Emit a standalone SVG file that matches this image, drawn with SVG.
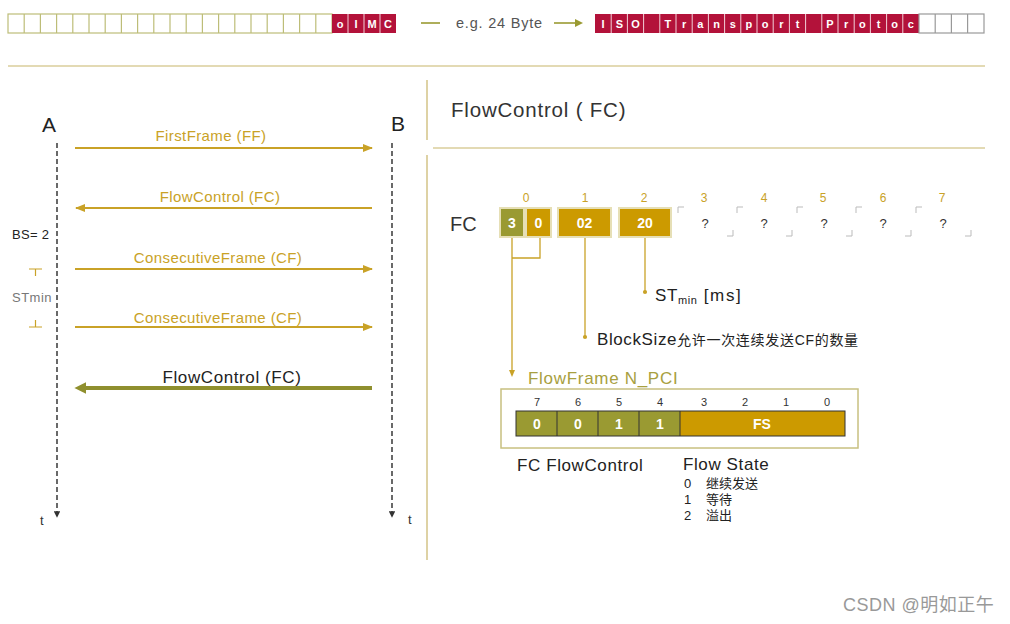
<svg xmlns="http://www.w3.org/2000/svg" width="1010" height="624" viewBox="0 0 1010 624">
<style>
.sans{font-family:"Liberation Sans",Arial,sans-serif}
.cjk{font-family:"Liberation Sans","Noto Sans CJK SC",sans-serif}
.cellw{fill:#ffffff;font-family:"Liberation Sans",Arial,sans-serif;font-size:11px;font-weight:bold;text-anchor:middle}
.lbl{fill:#c9a227;font-family:"Liberation Sans",Arial,sans-serif;font-size:15px;letter-spacing:0.4px;text-anchor:middle}
.idx{fill:#c9a227;font-family:"Liberation Sans",Arial,sans-serif;font-size:12px;text-anchor:middle}
.msg{stroke:#c9a227;stroke-width:2;fill:none}
.life{stroke:#444;stroke-width:1.6;stroke-dasharray:5,3;fill:none}
.sep{stroke:#c8b56a;stroke-width:1.2;fill:none}
.olive{fill:#9a9a32}
.gold{fill:#cc9a00}
.boxw{fill:#ffffff;font-family:"Liberation Sans",Arial,sans-serif;font-size:14px;font-weight:bold;text-anchor:middle}
.q{fill:#333;font-family:"Liberation Sans",Arial,sans-serif;font-size:13px;text-anchor:middle}
.brk{stroke:#bbbbbb;stroke-width:1;fill:none}
.lead{stroke:#c9a227;stroke-width:1.3;fill:none}
.bit{fill:#333;font-family:"Liberation Sans",Arial,sans-serif;font-size:11px;text-anchor:middle}
.big{font-family:"Liberation Sans",Arial,sans-serif;font-size:17px;letter-spacing:0.6px;fill:#222}
</style>
<defs>
<marker id="ah" viewBox="0 0 10 10" refX="9" refY="5" markerWidth="5" markerHeight="5" orient="auto-start-reverse"><path d="M0,1 L10,5 L0,9 z" fill="#c9a227"/></marker>
<marker id="ahd" viewBox="0 0 10 10" refX="9" refY="5" markerWidth="4" markerHeight="4" orient="auto"><path d="M0,0 L10,5 L0,10 z" fill="#333"/></marker>
<marker id="aho" viewBox="0 0 10 10" refX="2" refY="5" markerWidth="3" markerHeight="3" orient="auto-start-reverse"><path d="M0,0 L10,5 L0,10 z" fill="#8f8f2e"/></marker>
<marker id="dot" viewBox="0 0 10 10" refX="5" refY="5" markerWidth="4" markerHeight="4"><circle cx="5" cy="5" r="4" fill="#c9a227"/></marker>
</defs>
<rect width="1010" height="624" fill="#ffffff"/>

<g id="top-bar">
<rect x="8" y="14" width="324" height="19" fill="#fff" stroke="#bdbd78" stroke-width="1.2"/>
<path d="M24.2,14V33M40.4,14V33M56.6,14V33M72.8,14V33M89,14V33M105.2,14V33M121.4,14V33M137.6,14V33M153.8,14V33M170,14V33M186.2,14V33M202.4,14V33M218.6,14V33M234.8,14V33M251,14V33M267.2,14V33M283.4,14V33M299.6,14V33M315.8,14V33" stroke="#bdbd78" stroke-width="1.2"/>
<rect x="332" y="14" width="64" height="19" fill="#b3123a"/>
<path d="M348,14V33M364,14V33M380,14V33" stroke="#f2d0d8" stroke-width="1"/>
<text class="cellw" y="28"><tspan x="340">o</tspan><tspan x="356">I</tspan><tspan x="372">M</tspan><tspan x="388">C</tspan></text>
<path d="M421,23H440" stroke="#9a9a32" stroke-width="1.6"/>
<text x="456" y="28" class="sans" font-size="14.5" letter-spacing="0.8" fill="#555">e.g. 24 Byte</text>
<path d="M554,23H578" stroke="#9a9a32" stroke-width="1.6"/>
<path d="M575,19L583,23L575,27z" fill="#9a9a32"/>
<rect x="595" y="14" width="324" height="19" fill="#b3123a"/>
<path d="M611.2,14V33M627.4,14V33M643.6,14V33M659.8,14V33M676,14V33M692.2,14V33M708.4,14V33M724.6,14V33M740.8,14V33M757,14V33M773.2,14V33M789.4,14V33M805.6,14V33M821.8,14V33M838,14V33M854.2,14V33M870.4,14V33M886.6,14V33M902.8,14V33" stroke="#f2d0d8" stroke-width="1"/>
<text class="cellw" y="28"><tspan x="603.1">I</tspan><tspan x="619.3">S</tspan><tspan x="635.5">O</tspan><tspan x="667.9">T</tspan><tspan x="684.1">r</tspan><tspan x="700.3">a</tspan><tspan x="716.5">n</tspan><tspan x="732.7">s</tspan><tspan x="748.9">p</tspan><tspan x="765.1">o</tspan><tspan x="781.3">r</tspan><tspan x="797.5">t</tspan><tspan x="829.9">P</tspan><tspan x="846.1">r</tspan><tspan x="862.3">o</tspan><tspan x="878.5">t</tspan><tspan x="894.7">o</tspan><tspan x="910.9">c</tspan></text>
<rect x="919" y="14" width="65" height="19" fill="#fff" stroke="#999" stroke-width="1.2"/>
<path d="M935.2,14V33M951.4,14V33M967.6,14V33" stroke="#999" stroke-width="1.2"/>
</g>

<g id="separators">
<path class="sep" d="M8,66H985"/>
<path class="sep" d="M427,80V140M427,155V560"/>
<path class="sep" d="M433,148H985"/>
</g>

<g id="node-A">
<text x="42" y="132" class="sans" font-size="21" fill="#222">A</text>
<text x="40" y="525" class="sans" font-size="13" fill="#333">t</text>
</g>
<g id="node-B">
<text x="391" y="131" class="sans" font-size="21" fill="#222">B</text>
<text x="408" y="524" class="sans" font-size="13" fill="#333">t</text>
</g>
<g id="side-labels">
<text x="12" y="239" class="sans" font-size="13" letter-spacing="0.3" fill="#222">BS= 2</text>
<path d="M29,269H42M35.5,269V276" stroke="#c9a227" stroke-width="1.2" fill="none"/>
<text x="12" y="302" class="sans" font-size="13" letter-spacing="0.5" fill="#777">STmin</text>
<path d="M29,327H42M35.5,320V327" stroke="#c9a227" stroke-width="1.2" fill="none"/>
</g>

<g id="connectors">
<path class="life" d="M57,143V517" marker-end="url(#ahd)"/>
<path class="life" d="M392,143V517" marker-end="url(#ahd)"/>
<path class="msg" d="M75,148H372" marker-end="url(#ah)"/>
<path class="msg" d="M372,208H76" marker-end="url(#ah)"/>
<path class="msg" d="M75,269H372" marker-end="url(#ah)"/>
<path class="msg" d="M75,327H372" marker-end="url(#ah)"/>
<path d="M372,388H84" stroke="#8f8f2e" stroke-width="4" fill="none" marker-end="url(#aho)"/>
<path class="lead" d="M512,237V372M512,258H540V237"/>
<path d="M509,370L512,377L515,370z" fill="#c9a227"/>
<path class="lead" d="M585,237V337" marker-end="url(#dot)"/>
<path class="lead" d="M645,237V292" marker-end="url(#dot)"/>
</g>

<g id="msg-labels">
<text x="211" y="141" class="lbl">FirstFrame (FF)</text>
<text x="220" y="202" class="lbl">FlowControl (FC)</text>
<text x="218" y="263" class="lbl">ConsecutiveFrame (CF)</text>
<text x="218" y="323" class="lbl">ConsecutiveFrame (CF)</text>
<text x="232" y="383" class="big" font-size="17.5" text-anchor="middle">FlowControl (FC)</text>
</g>

<g id="title-fc">
<text x="451" y="117" class="sans" font-size="20.5" letter-spacing="0.8" fill="#333">FlowControl ( FC)</text>
</g>

<g id="fc-frame">
<text x="450" y="231" class="sans" font-size="20" fill="#333">FC</text>
<text class="idx" y="202"><tspan x="526">0</tspan><tspan x="585">1</tspan><tspan x="644">2</tspan><tspan x="704">3</tspan><tspan x="764">4</tspan><tspan x="823">5</tspan><tspan x="883">6</tspan><tspan x="942">7</tspan></text>
<rect x="500" y="208" width="24" height="29" class="olive" stroke="#e6dfb6" stroke-width="2"/>
<rect x="526" y="208" width="25" height="29" class="gold" stroke="#e6dfb6" stroke-width="2"/>
<rect x="558" y="208" width="53" height="29" class="gold" stroke="#e6dfb6" stroke-width="2"/>
<rect x="619" y="208" width="52" height="29" class="gold" stroke="#e6dfb6" stroke-width="2"/>
<text class="boxw" y="228"><tspan x="512">3</tspan><tspan x="538.5">0</tspan><tspan x="584.5">02</tspan><tspan x="645">20</tspan></text>
<path class="brk" d="M678,213V207H684M733,230V236H727M737,213V207H743M792,230V236H786M797,213V207H803M852,230V236H846M856,213V207H862M911,230V236H905M916,213V207H922M971,230V236H965"/>
<text class="q" y="228"><tspan x="705">?</tspan><tspan x="764">?</tspan><tspan x="824">?</tspan><tspan x="883">?</tspan><tspan x="943">?</tspan></text>
</g>

<g id="stmin-label">
<text x="655" y="301" class="big">ST<tspan font-size="11" dy="3" letter-spacing="0.6">min</tspan><tspan dy="-3" letter-spacing="1.6"> [ms]</tspan></text>
</g>
<g id="blocksize-label">
<text x="597" y="345" class="big">BlockSize<tspan class="cjk" font-size="14" letter-spacing="0.7">允许一次连续发送CF的数量</tspan></text>
</g>

<g id="flowframe">
<text x="528" y="384" class="sans" font-size="17" letter-spacing="0.7" fill="#a8a040">FlowFrame N_PCI</text>
<rect x="501" y="389" width="357" height="59" fill="#fff" stroke="#c8c080" stroke-width="1.5"/>
<text class="bit" y="406"><tspan x="537">7</tspan><tspan x="578">6</tspan><tspan x="619">5</tspan><tspan x="660">4</tspan><tspan x="704">3</tspan><tspan x="745">2</tspan><tspan x="786">1</tspan><tspan x="827">0</tspan></text>
<rect x="516" y="411" width="164" height="25" class="olive"/>
<rect x="680" y="411" width="165" height="25" class="gold"/>
<rect x="516" y="411" width="329" height="25" fill="none" stroke="#333" stroke-width="1"/>
<path d="M557,411V436M598,411V436M639,411V436M680,411V436" stroke="#333" stroke-width="1"/>
<text class="boxw" y="429"><tspan x="537">0</tspan><tspan x="578">0</tspan><tspan x="619">1</tspan><tspan x="660">1</tspan><tspan x="762">FS</tspan></text>
</g>

<g id="legend">
<text x="517" y="471" class="big">FC FlowControl</text>
<text x="683" y="470" class="big" letter-spacing="1">Flow State</text>
<text class="cjk" font-size="13" fill="#222"><tspan x="684" y="488">0</tspan><tspan x="706" y="488">继续发送</tspan><tspan x="684" y="504">1</tspan><tspan x="706" y="504">等待</tspan><tspan x="684" y="520">2</tspan><tspan x="706" y="520">溢出</tspan></text>
</g>

<g id="watermark">
<text x="843" y="611" class="cjk" font-size="18" letter-spacing="0.5" fill="#999">CSDN @明如正午</text>
</g>
</svg>
